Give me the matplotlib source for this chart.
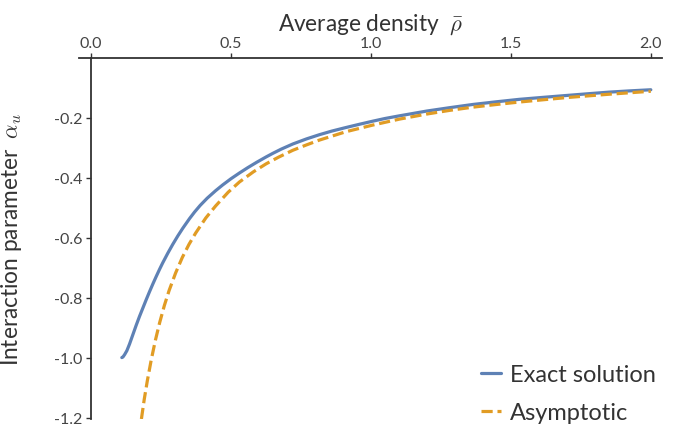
import numpy as np
import matplotlib
matplotlib.use('Agg')
import matplotlib.pyplot as plt

plt.rcParams['font.family'] = ['Lato', 'DejaVu Sans']
plt.rcParams['mathtext.fontset'] = 'cm'
plt.rcParams['axes.unicode_minus'] = False

# Exact solution
rho_exact = [0.110, 0.114, 0.120, 0.128, 0.1375, 0.150, 0.161, 0.173, 0.185, 0.197,
             0.209, 0.221, 0.233, 0.245, 0.256, 0.274, 0.292, 0.310, 0.328, 0.352,
             0.370, 0.390, 0.415, 0.445, 0.470, 0.500, 0.530, 0.560, 0.592, 0.626,
             0.650, 0.680, 0.721, 0.770, 0.816, 0.860, 0.911, 0.960, 1.006, 1.050,
             1.102, 1.200, 1.280, 1.365, 1.450, 1.530, 1.620, 1.700, 1.780, 1.850,
             1.920, 2.000]
alpha_exact = [-1.000, -0.998, -0.990, -0.977, -0.955, -0.922, -0.893, -0.863, -0.835, -0.807,
               -0.780, -0.754, -0.729, -0.705, -0.684, -0.652, -0.622, -0.594, -0.568, -0.536,
               -0.514, -0.492, -0.468, -0.443, -0.424, -0.403, -0.384, -0.366, -0.348, -0.330,
               -0.318, -0.304, -0.287, -0.270, -0.256, -0.244, -0.232, -0.221, -0.211, -0.202,
               -0.193, -0.177, -0.166, -0.155, -0.146, -0.138, -0.131, -0.125, -0.119, -0.114,
               -0.110, -0.106]

# Asymptotic curve
rho_asym = [0.180, 0.190, 0.201, 0.215, 0.230, 0.245, 0.262, 0.279, 0.302, 0.326,
            0.350, 0.374, 0.410, 0.445, 0.490, 0.530, 0.580, 0.626, 0.670, 0.721,
            0.770, 0.816, 0.911, 1.006, 1.102, 1.200, 1.280, 1.365, 1.450, 1.530,
            1.620, 1.700, 1.850, 2.000]
alpha_asym = [-1.205, -1.140, -1.078, -1.008, -0.942, -0.884, -0.826, -0.776, -0.718, -0.666,
              -0.622, -0.584, -0.534, -0.494, -0.448, -0.414, -0.380, -0.353, -0.331, -0.308,
              -0.290, -0.274, -0.246, -0.224, -0.204, -0.187, -0.175, -0.164, -0.155, -0.147,
              -0.139, -0.132, -0.121, -0.111]

xticks = [0.0, 0.5, 1.0, 1.5, 2.0]
yticks = [-0.2, -0.4, -0.6, -0.8, -1.0, -1.2]

blue = '#5E81B5'
orange = '#E19C24'
axcol = '#333333'
tickcol = '#444444'

fig = plt.figure(figsize=(6.94, 4.31), dpi=100)
ax = fig.add_axes([79/694, 1 - 420/431, 583/694, 361/431])

ax.plot(rho_exact, alpha_exact, color=blue, lw=2.3, solid_capstyle='round', label='Exact solution')
ax.plot(rho_asym, alpha_asym, color=orange, lw=2.3, dashes=(3.5, 1.5), label='Asymptotic')

ax.set_xlim(-0.043, 2.04)
ax.set_ylim(-1.205, 0)

ax.spines['right'].set_visible(False)
ax.spines['bottom'].set_visible(False)
ax.spines['left'].set_position(('data', 0))
for s in ['top', 'left']:
    ax.spines[s].set_color(axcol)
    ax.spines[s].set_linewidth(1.3)

ax.xaxis.tick_top()
ax.xaxis.set_label_position('top')
ax.set_xticks(xticks)
ax.set_xticklabels(['%.1f' % v for v in xticks])
ax.set_yticks(yticks)
ax.set_yticklabels(['%.1f' % v for v in yticks])
ax.tick_params(axis='both', colors=axcol, labelcolor=tickcol, labelsize=11.5,
               length=3.5, width=1.0, pad=2.5)

ax.set_xlabel(r'Average density  $\bar{\rho}$', fontsize=16.3, color=axcol, labelpad=4)
ax.set_ylabel(r'Interaction parameter  $\alpha_u$', fontsize=16.3, color=axcol)
ax.yaxis.set_label_coords(-0.095, 0.5)

leg = ax.legend(loc='lower right', bbox_to_anchor=(656/694, 7/431),
                bbox_transform=fig.transFigure, frameon=False, fontsize=17,
                handlelength=0.85, handletextpad=0.4, labelspacing=0.72,
                borderpad=0, borderaxespad=0)
for t in leg.get_texts():
    t.set_color(axcol)

fig.savefig('out.png', dpi=100)
